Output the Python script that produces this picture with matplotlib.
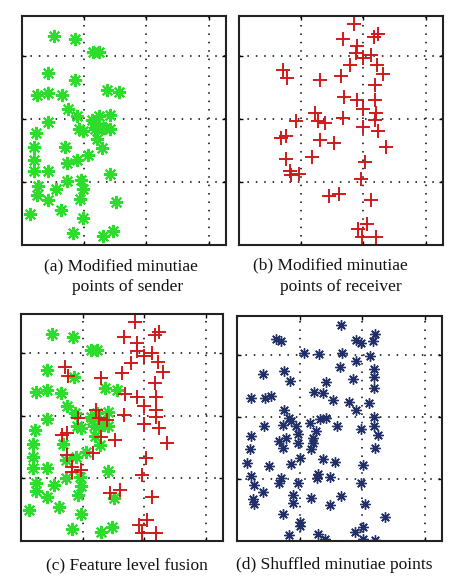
import matplotlib.pyplot as plt

# DATA (grid spacing = 100 units)
sender_x = [51, 85, 114, 123, 42, 86, 24, 42, 65, 137, 156, 74, 88, 42, 113, 124, 141, 22, 91, 98,
            118, 130, 141, 120, 20, 69, 129, 106, 19, 73, 89, 20, 42, 141, 25, 24, 54, 73, 95, 98,
            42, 93, 151, 62, 13, 98, 82, 130, 147, 116, 134]
sender_y = [331, 326, 306, 306, 273, 262, 238, 241, 237, 245, 242, 216, 205, 195, 198, 205, 206, 178, 184, 181,
            184, 185, 184, 168, 155, 155, 153, 143, 135, 130, 135, 117, 117, 112, 93, 80, 89, 101, 103, 88,
            71, 73, 68, 55, 49, 43, 19, 14, 22, 194, 186]

receiver_x = [185, 224, 217, 167, 189, 188, 200, 213, 178, 222, 231, 71, 77, 130, 164, 218, 169, 189, 219, 200,
              122, 220, 167, 92, 127, 139, 219, 200, 224, 67, 75, 130, 153, 237, 117, 75, 203, 82, 97, 83,
              196, 144, 161, 212, 205, 191, 197, 220]
receiver_y = [351, 335, 329, 327, 316, 304, 296, 301, 285, 286, 271, 278, 264, 261, 268, 253, 235, 230, 230, 216,
              209, 209, 202, 196, 196, 193, 198, 187, 181, 170, 173, 166, 162, 156, 140, 137, 132, 118, 113, 111,
              105, 77, 81, 71, 34, 25, 12, 12]

shuffled_x = [167, 63, 71, 191, 198, 220, 218, 107, 131, 168, 190, 212, 165, 42, 75, 84, 219, 219, 186, 143,
              219, 123, 138, 153, 23, 44, 55, 179, 211, 191, 75, 83, 87, 133, 142, 219, 43, 74, 95, 116,
              160, 199, 219, 226, 23, 98, 126, 78, 67, 122, 98, 21, 74, 119, 221, 101, 16, 51, 87, 137,
              157, 202, 23, 71, 130, 148, 128, 27, 42, 67, 98, 199, 90, 25, 27, 89, 118, 167, 149, 205,
              73, 236, 101, 202, 83, 130, 141, 189, 202, 221, 101, 122]
shuffled_y = [348, 326, 322, 324, 320, 334, 322, 303, 302, 303, 291, 298, 280, 270, 274, 258, 278, 264, 262, 256,
              247, 241, 238, 228, 230, 230, 234, 224, 223, 211, 211, 198, 194, 197, 198, 200, 185, 187, 186, 190,
              185, 180, 186, 171, 169, 173, 177, 166, 161, 158, 158, 148, 150, 148, 150, 134, 126, 121, 124, 133,
              127, 122, 105, 101, 108, 103, 101, 90, 79, 94, 94, 94, 75, 68, 60, 62, 69, 72, 58, 60,
              44, 39, 30, 22, 10, 12, 3, 14, 3, 2, 25, 166]

captions = [
    ['(a) Modified minutiae', 'points of sender'],
    ['(b) Modified minutiae', 'points of receiver'],
    ['(c) Feature level fusion'],
    ['(d) Shuffled minutiae points'],
]

GREEN = '#2edc2e'
RED = '#d01a1a'
NAVY = '#22306a'
STAR = (8, 2, 0)

fig = plt.figure(figsize=(4.66, 5.78), dpi=100)
W, H = 466, 578


def make_ax(left, top, right, bottom):
    ax = fig.add_axes([left / W, 1 - bottom / H, (right - left) / W, (bottom - top) / H])
    ax.set_xlim(0, 328)
    ax.set_ylim(0, 363)
    ax.set_xticks([100, 200, 300])
    ax.set_yticks([100, 200, 300])
    ax.tick_params(direction='in', length=3, width=1, top=True, right=True,
                   labelbottom=False, labelleft=False)
    ax.grid(True, color='black', linestyle=(0, (1, 4.5)), linewidth=1.1)
    ax.set_axisbelow(True)
    for s in ax.spines.values():
        s.set_linewidth(1.5)
        s.set_color('#222222')
    return ax


ax_a = make_ax(22, 16, 226, 245)
ax_b = make_ax(239, 16, 443, 245)
ax_c = make_ax(21, 314, 223, 541)
ax_d = make_ax(237, 316, 442, 541)

for ax in [ax_a, ax_c]:
    ax.plot(sender_x, sender_y, linestyle='none', marker=STAR, markersize=9.5,
            markeredgewidth=1.5, color=GREEN)
for ax in [ax_b, ax_c]:
    ax.plot(receiver_x, receiver_y, linestyle='none', marker='+', markersize=9.5,
            markeredgewidth=1.4, color=RED)
ax_d.plot(shuffled_x, shuffled_y, linestyle='none', marker=STAR, markersize=7.5,
          markeredgewidth=1.0, color=NAVY)

# CAPTIONS
cap_font = dict(family='Liberation Serif', fontsize=12.5, color='#111111', ha='center', va='center')
fig.text(121 / W, 1 - 266 / H, captions[0][0], **cap_font)
fig.text(128 / W, 1 - 287 / H, captions[0][1], **cap_font)
fig.text(330 / W, 1 - 265 / H, captions[1][0], **cap_font)
fig.text(341 / W, 1 - 287 / H, captions[1][1], **cap_font)
fig.text(127 / W, 1 - 565 / H, captions[2][0], **cap_font)
fig.text(334 / W, 1 - 565 / H, captions[3][0], **cap_font)

plt.savefig('out.png', dpi=100)
plt.close()
